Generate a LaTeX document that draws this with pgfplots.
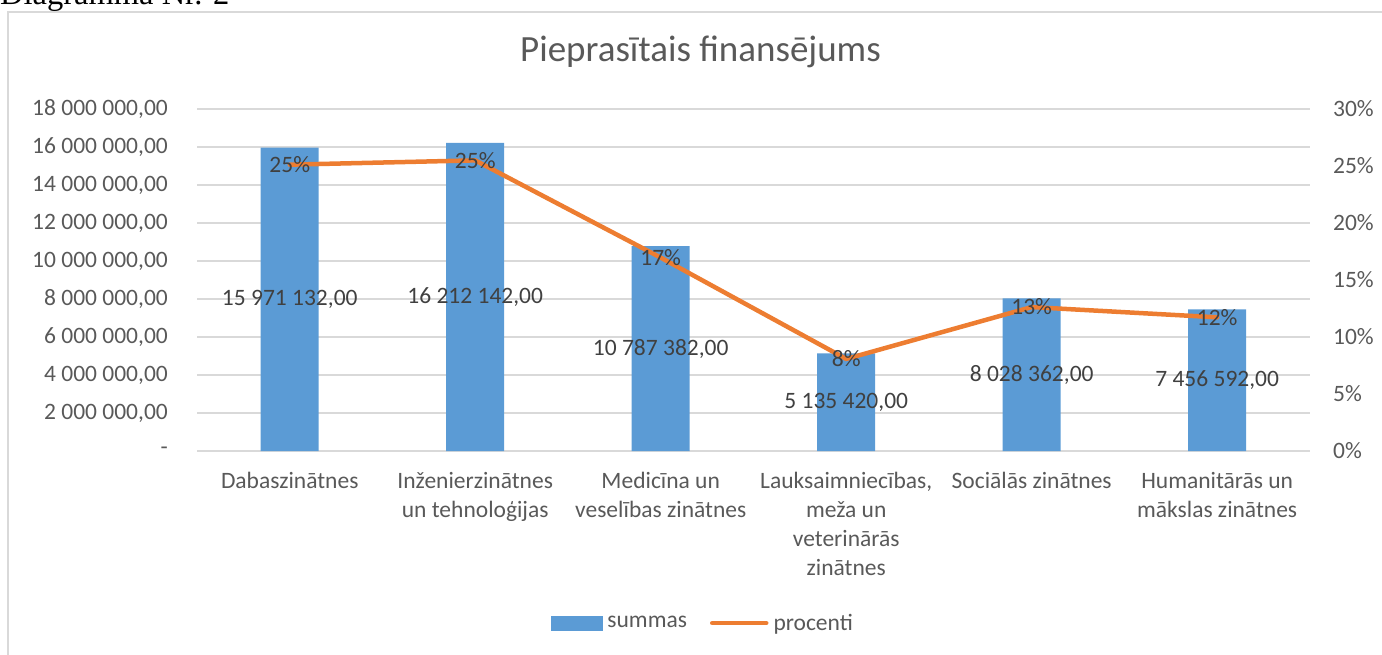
\documentclass[border=0pt]{standalone}
\usepackage{fontspec}
\setmainfont{Carlito}
\newfontfamily\timesfont{Liberation Serif}
\usepackage{pgfplots}
\pgfplotsset{compat=1.18}
\definecolor{barblue}{HTML}{5B9BD5}
\definecolor{lineorange}{HTML}{ED7D31}
\definecolor{tickgray}{HTML}{595959}
\definecolor{labgray}{HTML}{404040}
\definecolor{gridgray}{HTML}{D9D9D9}
\newcommand{\fl}{\rule{0pt}{18pt}}
\pgfplotstableread[col sep=semicolon,row sep=\\]{
x;y;half;lab;pct;plab\\
0;15971132;7985566;15 971 132,00;0.25116;25\%\\
1;16212142;8106071;16 212 142,00;0.25494;25\%\\
2;10787382;5393691;10 787 382,00;0.16963;17\%\\
3;5135420;2567710;5 135 420,00;0.08076;8\%\\
4;8028362;4014181;8 028 362,00;0.12625;13\%\\
5;7456592;3728296;7 456 592,00;0.11726;12\%\\
}\data
\begin{document}
\begin{tikzpicture}[x=1pt,y=1pt]
\useasboundingbox (0,0) rectangle (1382,-655);
\node[anchor=base west, font=\timesfont\fontsize{32.5}{32}\selectfont, inner sep=0] at (0,-5) {Diagramma Nr. 2};
\draw[gridgray, line width=1.5pt] (8,-12) rectangle (1395,-670);
\node[anchor=base, font=\fontsize{37}{42}\selectfont, text=tickgray] at (700.5,-62) {Pieprasītais finansējums};
\begin{axis}[
  at={(197pt,-451pt)}, anchor=south west,
  scale only axis, width=1113pt, height=342pt,
  xmin=-0.5, xmax=5.5, ymin=0, ymax=18000000,
  scaled y ticks=false,
  axis line style={draw=none},
  tick style={draw=none},
  ymajorgrids, grid style={gridgray, line width=1.5pt},
  ytick={0,2000000,4000000,6000000,8000000,10000000,12000000,14000000,16000000,18000000},
  yticklabels={{-\hspace{10pt}},{2 000 000,00},{4 000 000,00},{6 000 000,00},{8 000 000,00},{10 000 000,00},{12 000 000,00},{14 000 000,00},{16 000 000,00},{18 000 000,00}},
  yticklabel style={anchor=east, inner sep=0pt, xshift=-29pt, font=\fontsize{23.5}{27}\selectfont, text=tickgray},
  xtick={0,1,2,3,4,5},
  xticklabels={{\fl Dabaszinātnes},{\fl Inženierzinātnes\\un tehnoloģijas},{\fl Medicīna un\\veselības zinātnes},{\fl Lauksaimniecības,\\meža un\\veterinārās\\zinātnes},{\fl Sociālās zinātnes},{\fl Humanitārās un\\mākslas zinātnes}},
  xticklabel style={anchor=north, inner sep=0pt, yshift=-19pt, align=center, font=\fontsize{23.5}{29}\selectfont, text=tickgray},
  clip=false,
]
\addplot[ybar, bar width=0.3127, fill=barblue, draw=none] table[x=x, y=y] {\data};
\addplot[draw=none, mark=none, nodes near coords, point meta=explicit symbolic,
  nodes near coords style={anchor=center, inner sep=0pt, font=\fontsize{23.5}{27}\selectfont, text=labgray}]
  table[x=x, y=half, meta=lab] {\data};
\end{axis}
\begin{axis}[
  at={(197pt,-451pt)}, anchor=south west,
  scale only axis, width=1113pt, height=342pt,
  xmin=-0.5, xmax=5.5, ymin=0, ymax=0.30,
  axis line style={draw=none},
  tick style={draw=none},
  xtick=\empty,
  ytick={0,0.05,0.10,0.15,0.20,0.25,0.30},
  yticklabels={{0\%},{5\%},{10\%},{15\%},{20\%},{25\%},{30\%}},
  yticklabel pos=right,
  yticklabel style={anchor=west, inner sep=0pt, xshift=23pt, font=\fontsize{23.5}{27}\selectfont, text=tickgray},
  clip=false,
  legend columns=2,
  legend style={draw=none, fill=none, at={(0.456,-0.503)}, anchor=center,
    font=\fontsize{23.5}{27}\selectfont, text=tickgray,
    nodes={inner xsep=5pt},
    /tikz/every even column/.append style={column sep=18pt}},
]
\addlegendimage{legend image code/.code={\fill[barblue] (0pt,-7pt) rectangle (51pt,7pt);}}
\addlegendentry{summas}
\addplot[lineorange, line width=4.5pt, line cap=round, line join=round, mark=none,
  nodes near coords, point meta=explicit symbolic,
  nodes near coords style={anchor=center, inner sep=0pt, font=\fontsize{23.5}{27}\selectfont, text=labgray},
  legend image code/.code={\draw[lineorange, line width=4.5pt, line cap=round] (0pt,0pt) -- (54pt,0pt);}]
  table[x=x, y=pct, meta=plab] {\data};
\addlegendentry{procenti}
\end{axis}
\end{tikzpicture}
\end{document}
